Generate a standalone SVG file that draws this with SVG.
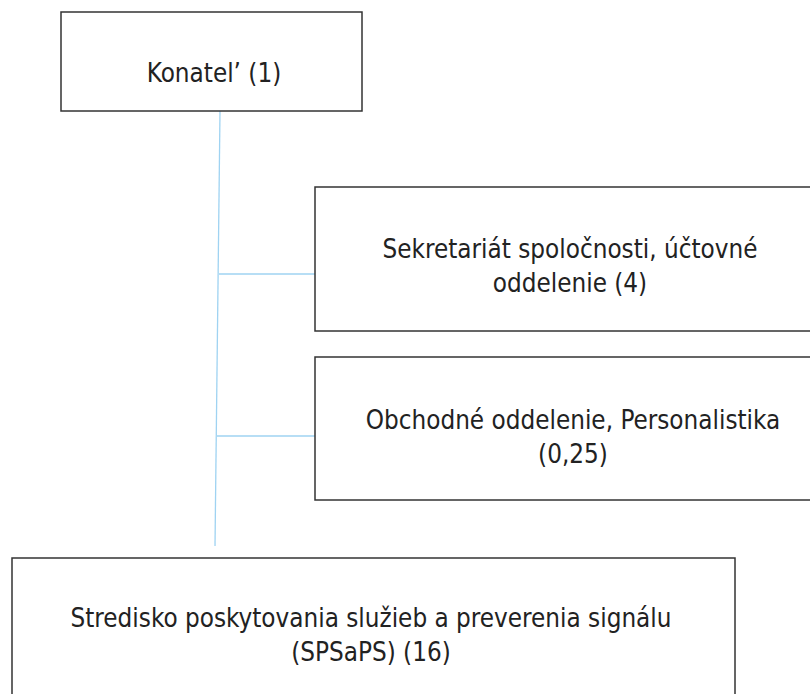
<svg xmlns="http://www.w3.org/2000/svg" width="810" height="694" viewBox="0 0 810 694">
<style>
.box{fill:#fff;stroke:#333;stroke-width:1.5}
.t{font-family:"DejaVu Sans Condensed","DejaVu Sans",Verdana,sans-serif;font-stretch:condensed;font-size:25.8px;fill:#222;text-anchor:middle}
.c{stroke:#9fd3f2;stroke-width:1.3;fill:none}
</style>
<rect width="810" height="694" fill="#fff"/>
<g id="connectors">
<line class="c" x1="220" y1="111" x2="215" y2="546"/>
<line class="c" x1="219" y1="274" x2="315" y2="274"/>
<line class="c" x1="217" y1="436" x2="315" y2="436"/>
</g>
<g id="n1">
<rect class="box" x="61" y="12" width="301" height="99"/>
<text class="t" x="214" y="82">Konatel’ (1)</text>
</g>
<g id="n2">
<rect class="box" x="315" y="187" width="500" height="144"/>
<text class="t" x="570" y="258">Sekretariát spoločnosti, účtovné</text>
<text class="t" x="570" y="292">oddelenie (4)</text>
</g>
<g id="n3">
<rect class="box" x="315" y="357" width="500" height="143"/>
<text class="t" x="573" y="429">Obchodné oddelenie, Personalistika</text>
<text class="t" x="573" y="463">(0,25)</text>
</g>
<g id="n4">
<rect class="box" x="12" y="558" width="723" height="140"/>
<text class="t" x="371" y="627">Stredisko poskytovania služieb a preverenia signálu</text>
<text class="t" x="371" y="661">(SPSaPS) (16)</text>
</g>
</svg>
